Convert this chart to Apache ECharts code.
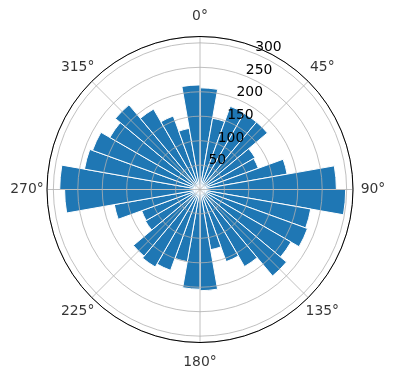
<!DOCTYPE html>
<html><head><meta charset="utf-8">
<script src="https://cdn.jsdelivr.net/npm/echarts@6/dist/echarts.min.js"></script>
<style>html,body{margin:0;padding:0;background:#fff}#c{width:396px;height:380px}</style>
</head><body><div id="c"></div>
<script>
// bar start angles (degrees, clockwise from north), each bar spans 10°
var binStarts = [0,10,20,30,40,50,60,70,80,90,100,110,120,130,140,150,160,170,
                 180,190,200,210,220,230,240,250,260,270,280,290,300,310,320,330,340,350];
var counts = [208,148,181,180,180,130,127,181,279,298,230,234,215,231,182,157,125,207,
              204,150,176,183,178,129,127,178,277,287,240,234,213,226,190,160,127,214];
var radialTicks = [50,100,150,200,250,300];
var angleTicks = [0,45,90,135,180,225,270,315];
var rMax = 313;

var FONT = 'DejaVu Sans';
var GRID = '#b0b0b0';
var center = [200, 189.5];
var R = 153;                       // outer circle radius in px
var LABEL_R = rMax * 173 / R;      // angle labels sit 173px from the centre

var chart = echarts.init(document.getElementById('c'), null, {renderer:'canvas'});
chart.setOption({
  animation:false,
  backgroundColor:'#fff',
  polar:[
    {center:center, radius:R},
    {center:center, radius:R},
    {center:center, radius:R}
  ],
  angleAxis:[
    {polarIndex:0, type:'category', data:binStarts.map(String), startAngle:90, clockwise:true,
     boundaryGap:true, axisLine:{show:false}, axisTick:{show:false}, axisLabel:{show:false}, splitLine:{show:false}},
    {polarIndex:1, type:'value', min:0, max:360, interval:45, startAngle:90, clockwise:true, z:5,
     axisLine:{show:true, lineStyle:{color:'#000', width:1}},
     axisTick:{show:false}, axisLabel:{show:false},
     splitLine:{show:true, lineStyle:{color:GRID, width:0.8}}},
    {polarIndex:2, type:'value', min:0, max:360, startAngle:67.5, clockwise:true, show:false}
  ],
  radiusAxis:[
    {polarIndex:0, type:'value', min:0, max:rMax, show:false},
    {polarIndex:1, type:'value', min:0, max:rMax, interval:50, z:5,
     axisLine:{show:false}, axisTick:{show:false}, axisLabel:{show:false},
     splitLine:{show:true, lineStyle:{color:GRID, width:0.8}}},
    {polarIndex:2, type:'value', min:0, max:rMax, interval:50, z:6,
     axisLine:{show:false}, axisTick:{show:false}, splitLine:{show:false},
     axisLabel:{show:true, margin:1, color:'#000', fontFamily:FONT, fontSize:13.9, lineHeight:12,
       align:'left', verticalAlign:'bottom', showMinLabel:false, showMaxLabel:false,
       formatter:function(v){ return radialTicks.indexOf(v) >= 0 ? String(v) : ''; }}}
  ],
  series:[{
    type:'bar', coordinateSystem:'polar', polarIndex:0,
    data:counts, barCategoryGap:'0%', z:2,
    itemStyle:{color:'#1f77b4', borderColor:'#ffffff', borderWidth:1}
  },{
    // angle tick labels (0°, 45°, ...) placed through the polar scale
    type:'scatter', coordinateSystem:'polar', polarIndex:1, clip:false, silent:true, z:7,
    symbol:'circle', symbolSize:0.01, itemStyle:{color:'rgba(0,0,0,0)'},
    data:angleTicks.map(function(a){ return [LABEL_R, a]; }),
    label:{show:true, position:'inside', color:'#000', fontFamily:FONT, fontSize:13.9,
      align:'center', verticalAlign:'middle',
      formatter:function(p){ return p.value[1] + '°'; }}
  }]
});
</script></body></html>
